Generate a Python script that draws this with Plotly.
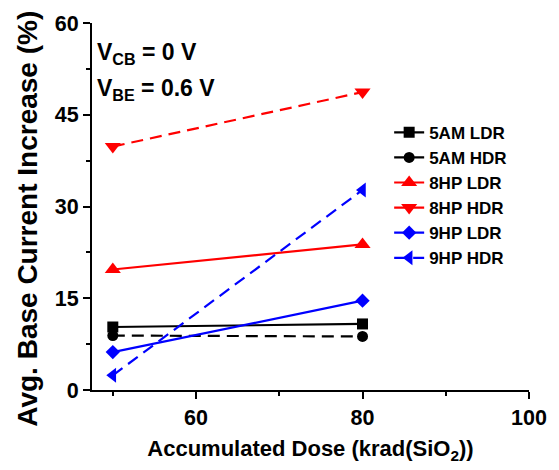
import plotly.graph_objects as go

# Accumulated dose (krad(SiO2))
dose = [50, 80]

# Average base current increase (%) per device / dose-rate
series_names = ["5AM LDR", "5AM HDR", "8HP LDR", "8HP HDR", "9HP LDR", "9HP HDR"]
am5_ldr = [10.3, 10.8]
am5_hdr = [8.9, 8.75]
hp8_ldr = [19.7, 23.8]
hp8_hdr = [39.8, 48.7]
hp9_ldr = [6.2, 14.6]
hp9_hdr = [2.4, 32.7]

x_ticks = [60, 80, 100]
y_ticks = [0, 15, 30, 45, 60]

FONT = "Arial, Liberation Sans, sans-serif"

styles = [
    (am5_ldr, "black", "solid", "square", 11),
    (am5_hdr, "black", "12px,7px", "circle", 11),
    (hp8_ldr, "red", "solid", "triangle-up", 14),
    (hp8_hdr, "red", "12px,7px", "triangle-down", 14),
    (hp9_ldr, "blue", "solid", "diamond", 11),
    (hp9_hdr, "blue", "12px,7px", "triangle-left", 13),
]

fig = go.Figure()
for name, (vals, color, dash, symbol, size) in zip(series_names, styles):
    fig.add_trace(go.Scatter(
        x=dose, y=vals, name=name,
        mode="lines+markers",
        line=dict(color=color, width=2.2, dash=dash),
        marker=dict(symbol=symbol, size=size, color=color),
    ))

axis_common = dict(
    showline=True, linewidth=2, linecolor="black",
    showgrid=False, zeroline=False,
    tickfont=dict(family=FONT, size=21.5, color="black", weight="bold"),
)

fig.update_layout(
    width=559, height=470,
    margin=dict(l=92, r=21, t=23, b=80),
    plot_bgcolor="white", paper_bgcolor="white",
    font=dict(family=FONT, color="black"),
    showlegend=True,
    legend=dict(
        x=0.68, y=0.75, xanchor="left", yanchor="top",
        bgcolor="rgba(0,0,0,0)",
        font=dict(family=FONT, size=17, color="black", weight="bold"),
    ),
    xaxis=dict(
        range=[47.5, 100], tickvals=x_ticks,
        ticks="outside", ticklen=7, tickwidth=2, tickcolor="black",
        minor=dict(dtick=10, tick0=50, ticks="outside", ticklen=4, tickwidth=2, tickcolor="black"),
        title=dict(text="Accumulated Dose (krad(SiO<sub>2</sub>))",
                   font=dict(family=FONT, size=22, color="black", weight="bold"), standoff=12),
        **axis_common,
    ),
    yaxis=dict(
        range=[0, 60], tickvals=y_ticks,
        ticks="outside", ticklen=7, tickwidth=2, tickcolor="black",
        minor=dict(dtick=7.5, tick0=0, ticks="outside", ticklen=4, tickwidth=2, tickcolor="black"),
        **axis_common,
    ),
    xaxis2=dict(
        overlaying="x", side="top", range=[47.5, 100], tickvals=x_ticks,
        showticklabels=False, ticks="inside", ticklen=7, tickwidth=2, tickcolor="black",
        minor=dict(dtick=10, tick0=50, ticks="inside", ticklen=4, tickwidth=2, tickcolor="black"),
        showline=True, linewidth=2, linecolor="black", showgrid=False, zeroline=False,
    ),
    yaxis2=dict(
        overlaying="y", side="right", range=[0, 60], tickvals=y_ticks,
        showticklabels=False, ticks="inside", ticklen=7, tickwidth=2, tickcolor="black",
        minor=dict(dtick=7.5, tick0=0, ticks="inside", ticklen=4, tickwidth=2, tickcolor="black"),
        showline=True, linewidth=2, linecolor="black", showgrid=False, zeroline=False,
    ),
)

# Y-axis title as a rotated annotation so it can sit slightly below the plot centre
fig.add_annotation(x=-0.147, y=0.466, xref="paper", yref="paper", xanchor="center", yanchor="middle",
                   text="Avg. Base Current Increase (%)", textangle=-90, showarrow=False,
                   font=dict(family=FONT, size=28, color="black", weight="bold"))

ann_font = dict(family=FONT, size=23, color="black", weight="bold")
fig.add_annotation(x=0.006, y=0.918, xref="paper", yref="paper", xanchor="left", yanchor="middle",
                   text="V<sub>CB</sub> = 0 V", showarrow=False, font=ann_font)
fig.add_annotation(x=0.006, y=0.818, xref="paper", yref="paper", xanchor="left", yanchor="middle",
                   text="V<sub>BE</sub> = 0.6 V", showarrow=False, font=ann_font)

fig.write_html("out.html")
